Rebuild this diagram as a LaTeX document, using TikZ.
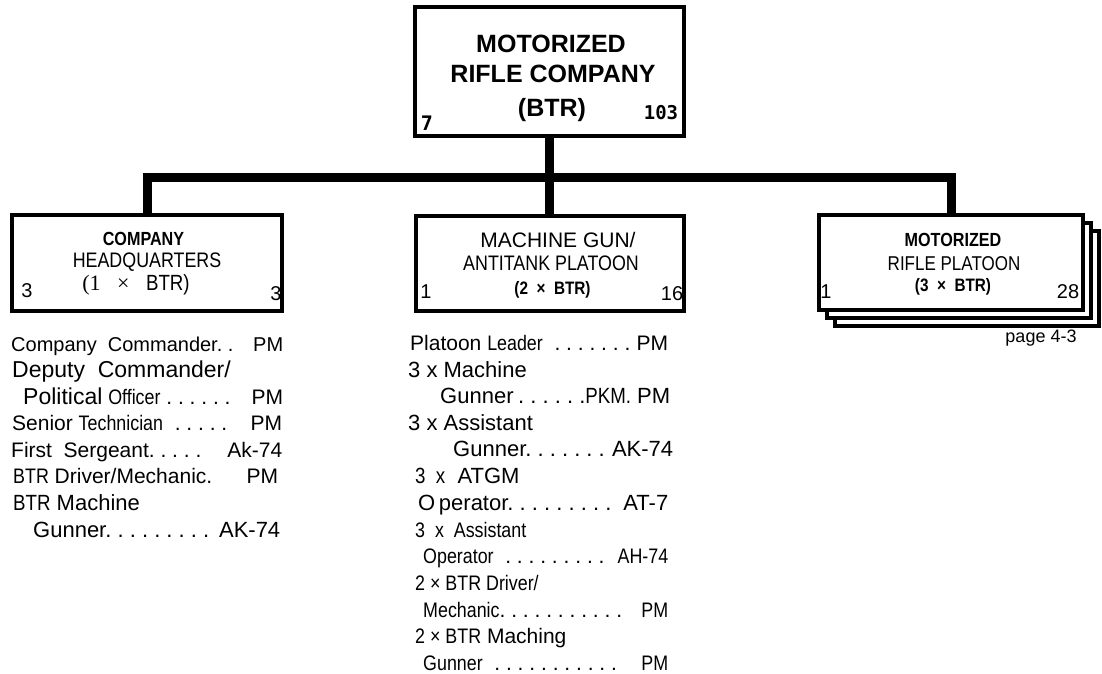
\documentclass[tikz,border=0pt]{standalone}
\usepackage{fontspec}
\setmainfont{Liberation Sans}
\newfontfamily\narrowfont[FakeStretch=0.85]{Liberation Sans}
\newfontfamily\monofont{DejaVu Sans Mono}
\newfontfamily\seriffont{Liberation Serif}
\usepackage{tikz}
\usetikzlibrary{calc}
\frenchspacing

\tikzset{
  unitbox/.style={draw, line width=4pt, inner sep=0pt, outer sep=0pt},
  layerline/.style={line width=3.5pt},
  busline/.style={line width=9pt},
  boxtext/.style={anchor=base, inner sep=0pt},
  listrow/.style={anchor=base west, inner sep=0pt, font=\fontsize{21}{25}\selectfont},
}

\begin{document}
\begin{tikzpicture}
[x=1pt,y=1pt,yscale=-1,xscale=1]
\fill[white] (0,0) rectangle (1102,674);
\useasboundingbox (0,0) rectangle (1102,674);

% unit boxes
\node[unitbox, minimum width=269pt, minimum height=129pt] (mrc) at (549.5,71.5) {};
\node[unitbox, minimum width=270pt, minimum height=96pt] (hq) at (147,263) {};
\node[unitbox, minimum width=268pt, minimum height=95pt] (mgp) at (550,263.5) {};
\node[unitbox, minimum width=264pt, minimum height=95pt] (rp) at (951,262.5) {};

% the platoon box is drawn three deep
\draw[layerline] ($(rp.south west)+(8,0)$) -- ++(0,8) -| ($(rp.north east)+(8,8)$) -- ($(rp.north east)+(0,8)$);
\draw[layerline] ($(rp.south west)+(16,8)$) -- ++(0,8) -| ($(rp.north east)+(16,16)$) -- ($(rp.north east)+(8,16)$);

% connectors
\coordinate (bus) at (550,177);
\draw[busline] (mrc.south) -- (mrc.south |- mgp.north);
\draw[busline] (hq.north) |- (bus) -| (rp.north);

% company
\node[boxtext, font=\fontsize{25}{30}\selectfont\bfseries] (mrct1) at (551,53) {MOTORIZED};
\node[boxtext, font=\fontsize{25}{30}\selectfont\bfseries] (mrct2) at (553,83) {RIFLE COMPANY};
\node[boxtext, font=\fontsize{25}{30}\selectfont\bfseries] (mrct3) at (552,117) {(BTR)};
\node[boxtext, font=\fontsize{20}{24}\selectfont\monofont\bfseries] (mrcl) at (427,130) {7};
\node[boxtext, font=\fontsize{19}{24}\selectfont\monofont\bfseries] (mrcr) at (661,120) {103};

% headquarters
\node[boxtext, font=\fontsize{19}{22}\selectfont\narrowfont\bfseries] (hqt1) at (143.5,245) {COMPANY};
\node[boxtext, font=\fontsize{21}{24}\selectfont\narrowfont] (hqt2) at (147,267) {HEADQUARTERS};
\node[boxtext, font=\fontsize{22}{24}\selectfont\seriffont] (hqt3) at (136,290) {(1 \ \ × \ \ {\narrowfont BTR)}};
\node[boxtext, font=\fontsize{20}{24}\selectfont] (hql) at (27,297) {3};
\node[boxtext, font=\fontsize{20}{24}\selectfont] (hqr) at (276,300) {3};

% machine gun / antitank platoon
\node[boxtext, font=\fontsize{21}{24}\selectfont] (mgt1) at (558,247) {MACHINE GUN/};
\node[boxtext, font=\fontsize{21}{24}\selectfont\narrowfont] (mgt2) at (551,270) {ANTITANK PLATOON};
\node[boxtext, font=\fontsize{18}{22}\selectfont\narrowfont\bfseries] (mgt3) at (552.5,294) {(2 \ × \ BTR)};
\node[boxtext, font=\fontsize{20}{24}\selectfont] (mgl) at (426,298) {1};
\node[boxtext, font=\fontsize{20}{24}\selectfont] (mgr) at (672,300) {16};

% motorized rifle platoon
\node[boxtext, font=\fontsize{19}{22}\selectfont\narrowfont\bfseries] (rpt1) at (953,246) {MOTORIZED};
\node[boxtext, font=\fontsize{20}{24}\selectfont\narrowfont] (rpt2) at (954,270) {RIFLE PLATOON};
\node[boxtext, font=\fontsize{18}{22}\selectfont\narrowfont\bfseries] (rpt3) at (953,291) {(3 \ × \ BTR)};
\node[boxtext, font=\fontsize{20}{24}\selectfont] (rpl) at (826,298) {1};
\node[boxtext, font=\fontsize{20}{24}\selectfont] (rpr) at (1068,298) {28};
\node[boxtext, font=\fontsize{18}{22}\selectfont] (pgref) at (1041,342) {page 4-3};

% headquarters personnel
\node[listrow, font=\fontsize{20}{24}\selectfont] (hq1) at (11,351) {\makebox[272pt]{Company \ Commander. .\hfill PM}};
\node[listrow, font=\fontsize{23}{26}\selectfont] (hq2) at (12,377) {Deputy \ Commander/};
\node[listrow] (hq3) at (23,404) {\makebox[260pt]{{\fontsize{23}{26}\selectfont Political} {\narrowfont Officer} . . . . . .\hfill PM}};
\node[listrow] (hq4) at (12,430) {\makebox[270pt]{Senior {\narrowfont Technician} \ . . . . .\hfill PM}};
\node[listrow] (hq5) at (11,457) {\makebox[271pt]{First \ Sergeant. . . . .\hfill Ak-74}};
\node[listrow] (hq6) at (13,483) {\makebox[265pt]{{\narrowfont BTR} Driver/Mechanic.\hfill PM}};
\node[listrow, font=\fontsize{22}{26}\selectfont] (hq7) at (13,510) {{\narrowfont BTR} Machine};
\node[listrow, font=\fontsize{22}{26}\selectfont] (hq8) at (33,537) {\makebox[247pt]{Gunner. . . . . . . . .\hfill AK-74}};

% platoon personnel
\node[listrow] (mg1) at (410,350) {\makebox[258pt]{Platoon {\narrowfont Leader} \ . . . . . . .\hfill PM}};
\node[listrow, font=\fontsize{22}{26}\selectfont] (mg2) at (408,377) {3 x Machine};
\node[listrow, font=\fontsize{22}{26}\selectfont] (mg3) at (440,403) {\makebox[230pt]{Gunner\hfill. . . . . .{\narrowfont PKM.} PM}};
\node[listrow, font=\fontsize{22}{26}\selectfont] (mg4) at (408,430) {3 x Assistant};
\node[listrow, font=\fontsize{22}{26}\selectfont] (mg5) at (453,456) {\makebox[220pt]{Gunner. . . . . . .\hfill AK-74}};
\node[listrow, font=\fontsize{22}{26}\selectfont] (mg6) at (415,483) {{\narrowfont 3 \ x} \ ATGM};
\node[listrow, font=\fontsize{22}{26}\selectfont] (mg7) at (418,510) {\makebox[250pt]{O\,perator. . . . . . . . .\hfill AT-7}};
\node[listrow] (mg8) at (415,537) {\narrowfont 3 \ x \ Assistant};
\node[listrow] (mg9) at (423,563) {\makebox[245pt]{{\narrowfont Operator} \ . . . . . . . . .\hfill {\narrowfont AH-74}}};
\node[listrow] (mg10) at (415,590) {\narrowfont 2 × BTR Driver/};
\node[listrow] (mg11) at (423,617) {\makebox[245pt]{{\narrowfont Mechanic}. . . . . . . . . . .\hfill {\narrowfont PM}}};
\node[listrow] (mg12) at (415,643) {{\narrowfont 2 × BTR} Maching};
\node[listrow] (mg13) at (423,670) {\makebox[245pt]{{\narrowfont Gunner} \ . . . . . . . . . . .\hfill {\narrowfont PM}}};

\end{tikzpicture}
\end{document}
